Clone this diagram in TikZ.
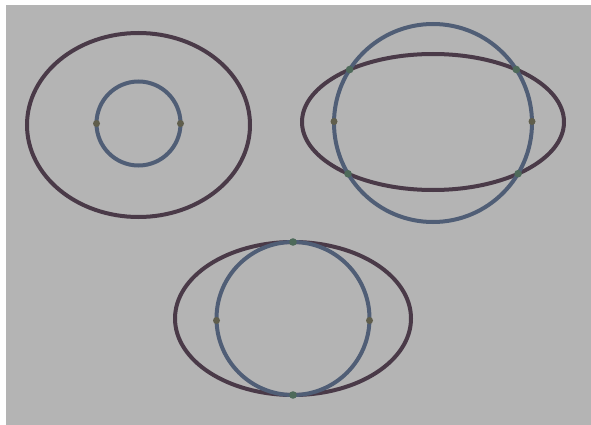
\documentclass[tikz,border=0pt]{standalone}
\usetikzlibrary{intersections,calc}
\definecolor{bggray}{RGB}{180,180,180}
\definecolor{ellcol}{RGB}{74,58,72}
\definecolor{circcol}{RGB}{80,94,118}
\definecolor{dotbrown}{RGB}{96,94,76}
\definecolor{dotgreen}{RGB}{78,106,90}
\tikzset{
  ell/.style={draw=ellcol, line width=4pt},
  circ/.style={draw=circcol, line width=4pt},
  bdot/.style={fill=dotbrown},
  gdot/.style={fill=dotgreen},
}
\begin{document}
\begin{tikzpicture}[x=1pt,y=-1pt]
\fill[white] (0,0) rectangle (591,425);
\fill[bggray] (6,5) rectangle (591,425);
\useasboundingbox (0,0) rectangle (591,425);
% figure 1
\coordinate (c1) at (138.5,125);
\coordinate (k1) at (138.5,123.5);
\draw[ell] (c1) ellipse [x radius=111.5, y radius=92];
\draw[circ] (k1) circle [radius=42];
\fill[bdot] ($(k1)+(-42,0)$) circle [radius=3.5];
\fill[bdot] ($(k1)+(42,0)$) circle [radius=3.5];
% figure 2
\coordinate (c2) at (433,122);
\coordinate (k2) at (433,123);
\draw[ell, name path=e2] (c2) ellipse [x radius=131, y radius=68];
\draw[circ, name path=k2p] (k2) circle [radius=99];
\fill[bdot] ($(k2)+(-99,-1.5)$) circle [radius=3.5];
\fill[bdot] ($(k2)+(99,-1.5)$) circle [radius=3.5];
\path[name intersections={of=e2 and k2p, name=i}];
\foreach \s in {1,2,3,4} \fill[gdot] (i-\s) circle [radius=3.8];
% figure 3
\coordinate (c3) at (293,318.5);
\draw[ell] (c3) ellipse [x radius=118, y radius=76.5];
\draw[circ] (c3) circle [radius=76.5];
\fill[gdot] ($(c3)+(0,-76.5)$) circle [radius=3.8];
\fill[gdot] ($(c3)+(0,76.5)$) circle [radius=3.8];
\fill[bdot] ($(c3)+(-76.5,2)$) circle [radius=3.5];
\fill[bdot] ($(c3)+(76.5,2)$) circle [radius=3.5];
\end{tikzpicture}
\end{document}
